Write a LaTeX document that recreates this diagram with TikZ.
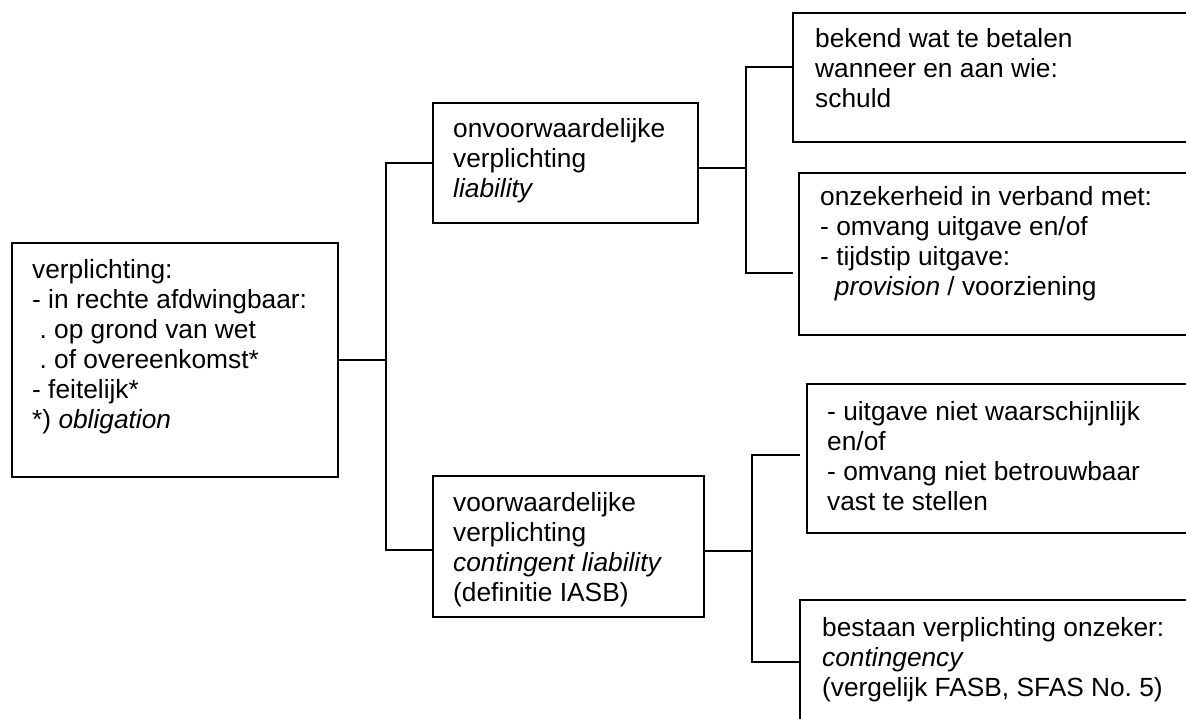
\documentclass[tikz,border=0pt]{standalone}
\usepackage{fontspec}
\setmainfont{Liberation Sans}
\frenchspacing
\tikzset{
  box/.style={draw=black, line width=2pt, rectangle, inner sep=0pt, outer sep=0pt, anchor=north west, fill=none},
  txt/.style={anchor=north west, inner sep=0pt, align=left, text=black, font=\fontsize{26.3}{30}\selectfont},
  conn/.style={draw=black, line width=2pt}
}
\begin{document}
\begin{tikzpicture}[x=1pt, y=-1pt]
\useasboundingbox (0,0) rectangle (1186,718);
\clip (0,0) rectangle (1186,718);
% boxes
\node[box, minimum width=326pt, minimum height=234pt] (L) at (12,243) {};
\node[box, minimum width=265pt, minimum height=120pt] (A) at (433,103) {};
\node[box, minimum width=271pt, minimum height=141pt] (B) at (433,476) {};
\node[box, minimum width=420pt, minimum height=129pt] (C) at (793,13) {};
\node[box, minimum width=420pt, minimum height=162pt] (D) at (799,173) {};
\node[box, minimum width=420pt, minimum height=149pt] (E) at (807,384) {};
\node[box, minimum width=420pt, minimum height=124pt] (F) at (800,600) {};
% texts
\node[txt] (Lt) at (32,257) {\strut verplichting:\\- in rechte afdwingbaar:\\\hspace*{.28em}. op grond van wet\\\hspace*{.28em}. of overeenkomst*\\- feitelijk*\\*) \textit{obligation}};
\node[txt] (At) at (453,116) {\strut onvoorwaardelijke\\verplichting\\\textit{liability}};
\node[txt] (Bt) at (453,490) {\strut voorwaardelijke\\verplichting\\\textit{contingent liability}\\(definitie IASB)};
\node[txt] (Ct) at (815,26) {\strut bekend wat te betalen\\wanneer en aan wie:\\schuld};
\node[txt] (Dt) at (820,184) {\strut onzekerheid in verband met:\\- omvang uitgave en/of\\- tijdstip uitgave:\\\hspace*{.56em}\textit{provision} / voorziening};
\node[txt] (Et) at (827,399) {\strut - uitgave niet waarschijnlijk\\en/of\\- omvang niet betrouwbaar\\vast te stellen};
\node[txt] (Ft) at (822,615) {\strut bestaan verplichting onzeker:\\\textit{contingency}\\(vergelijk FASB, SFAS No. 5)};
% junctions
\coordinate (jL) at (386,360);
\coordinate (jA) at (746,168);
\coordinate (cD) at (793,273);
\coordinate (jB) at (752,551);
\coordinate (cE) at (800,455);
% connectors
\draw[conn] (L.east) -- (L.east -| jL);
\draw[conn] (A.west) -| (jL) |- ([yshift=-3.5pt]B.west);
\draw[conn] ([yshift=-5pt]A.east) -- ([yshift=-5pt]A.east -| jA);
\draw[conn] ([yshift=10.5pt]C.west) -| (jA) |- (cD);
\draw[conn] ([yshift=-4.5pt]B.east) -- ([yshift=-4.5pt]B.east -| jB);
\draw[conn] (cE) -| (jB) |- (F.west);
\end{tikzpicture}
\end{document}
